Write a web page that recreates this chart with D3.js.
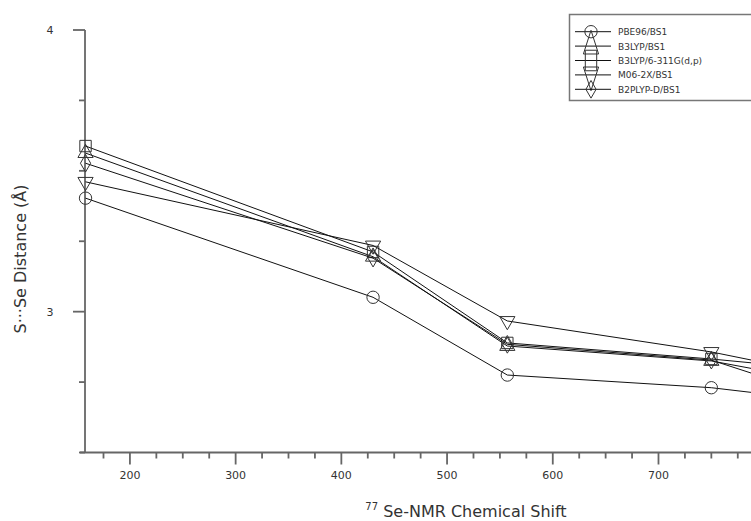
<!DOCTYPE html>
<html>
<head>
<meta charset="utf-8">
<script src="https://cdn.jsdelivr.net/npm/d3@7"></script>
<style>
  body { margin: 0; background: #fff; }
  svg { display: block; font-family: "DejaVu Sans", sans-serif; }
</style>
</head>
<body>
<svg width="751" height="521"></svg>
<script>
// chemical shift (x) and S...Se distance per method
let shifts = [158, 430, 557, 750, 800]
let pbe96 = [3.403, 3.051, 2.775, 2.730, 2.708]
let b3lyp = [3.563, 3.195, 2.878, 2.825, 2.790]
let b3lypBig = [3.588, 3.212, 2.889, 2.832, 2.814]
let m062x = [3.461, 3.235, 2.967, 2.857, 2.819]
let b2plyp = [3.527, 3.190, 2.884, 2.828, 2.767]

let seriesNames = ["PBE96/BS1", "B3LYP/BS1", "B3LYP/6-311G(d,p)", "M06-2X/BS1", "B2PLYP-D/BS1"]
let seriesValues = [pbe96, b3lyp, b3lypBig, m062x, b2plyp]
let xTicks = [200, 300, 400, 500, 600, 700]
let yTicks = [3, 4]

const svg = d3.select("svg")
const x = d3.scaleLinear().domain([157.5, 800]).range([85, 764.2])
const y = d3.scaleLinear().domain([2.5, 4]).range([452.5, 30])

const axisColor = "#666"
const markers = [
    { type: d3.symbolCircle, size: 120 },
    { type: d3.symbolTriangle, size: 100 },
    { type: d3.symbolSquare, size: 130 },
    { type: d3.symbolTriangle, size: 100, rot: 180 },
    { type: d3.symbolDiamond, size: 90 }
]

// axes
let xAxis = svg.append("g").attr("transform", "translate(0,452.5)")
xAxis.append("line").attr("x1", 80).attr("x2", 800).attr("stroke", axisColor).attr("stroke-width", 1.8)
xAxis.selectAll(".minor").data(d3.range(175, 800, 25)).join("line")
    .attr("x1", d => x(d)).attr("x2", d => x(d))
    .attr("y2", d => d % 100 == 0 ? 12 : 6)
    .attr("stroke", axisColor).attr("stroke-width", 1.8)
xAxis.selectAll("text").data(xTicks).join("text")
    .attr("x", d => x(d)).attr("y", 26)
    .attr("text-anchor", "middle").attr("font-size", 11).attr("fill", "#333")
    .text(d => d)

let yAxis = svg.append("g").attr("transform", "translate(85,0)")
yAxis.append("line").attr("y1", y(4)).attr("y2", y(2.5)).attr("stroke", axisColor).attr("stroke-width", 1.8)
yAxis.selectAll(".minor").data(d3.range(2.5, 4.01, 0.25)).join("line")
    .attr("y1", d => y(d)).attr("y2", d => y(d))
    .attr("x2", d => Math.abs(d - Math.round(d)) < 0.01 ? -12 : -6)
    .attr("stroke", axisColor).attr("stroke-width", 1.8)
yAxis.selectAll("text").data(yTicks).join("text")
    .attr("x", -35).attr("y", d => y(d) + 4)
    .attr("text-anchor", "middle").attr("font-size", 11).attr("fill", "#333")
    .text(d => d)

// titles
let xTitle = svg.append("text").attr("x", 466).attr("y", 517)
    .attr("text-anchor", "middle").attr("font-size", 16).attr("fill", "#333")
xTitle.append("tspan").attr("font-size", 10).attr("dy", -7).text("77")
xTitle.append("tspan").attr("dy", 7).text(" Se-NMR Chemical Shift")

svg.append("text")
    .attr("transform", "translate(26,259) rotate(-90)")
    .attr("text-anchor", "middle").attr("font-size", 16).attr("fill", "#333")
    .text("S···Se Distance (Å)")

// series
const line = d3.line().x((d, i) => x(shifts[i])).y(d => y(d))
const symbolPath = m => d3.symbol().type(m.type).size(m.size)()

seriesValues.forEach((vals, k) => {
    let m = markers[k]
    svg.append("path").attr("d", line(vals))
        .attr("fill", "none").attr("stroke", "#111").attr("stroke-width", 1)
    svg.append("g").selectAll("path").data(vals).join("path")
        .attr("d", symbolPath(m))
        .attr("transform", (d, i) => `translate(${x(shifts[i])},${y(d)}) rotate(${m.rot || 0})`)
        .attr("fill", "none").attr("stroke", "#333").attr("stroke-width", 1)
})

// legend
let legend = svg.append("g")
legend.append("rect").attr("x", 569.5).attr("y", 14.5).attr("width", 190).attr("height", 86)
    .attr("fill", "#fff").attr("stroke", "#777").attr("stroke-width", 1.5)
seriesNames.forEach((name, k) => {
    let cy = 31.7 + k * 14.4
    let m = markers[k]
    legend.append("line").attr("x1", 575).attr("x2", 611).attr("y1", cy).attr("y2", cy)
        .attr("stroke", "#111").attr("stroke-width", 1)
    let sy = (k >= 1 && k <= 3) ? 1.8 : 1
    legend.append("path").attr("d", symbolPath(m))
        .attr("transform", `translate(591,${cy}) rotate(${m.rot || 0}) scale(1,${sy})`)
        .attr("fill", "none").attr("stroke", "#333").attr("stroke-width", 1)
        .attr("vector-effect", "non-scaling-stroke")
    legend.append("text").attr("x", 618).attr("y", cy + 3.5)
        .attr("font-size", 9).attr("fill", "#333").text(name)
})
</script>
</body>
</html>
